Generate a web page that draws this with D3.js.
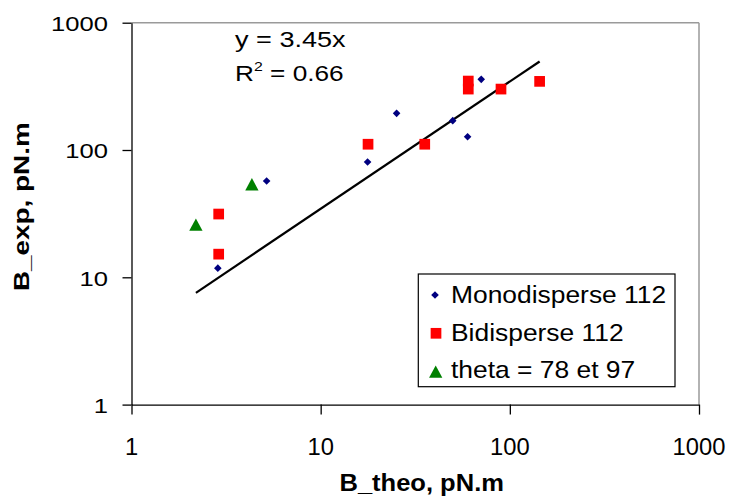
<!DOCTYPE html>
<html><head><meta charset="utf-8">
<script src="https://cdn.jsdelivr.net/npm/d3@7"></script>
<style>html,body{margin:0;padding:0;background:#fff;}svg{display:block;}</style>
</head><body>
<script>
const monoX = [2.86, 5.18, 17.7, 25.2, 49.9, 59.8, 70.6];
const monoY = [11.8, 57.1, 80.5, 194, 170, 127, 359];
const biX = [2.89, 2.89, 17.8, 35.5, 60.3, 60.3, 89.8, 143.7];
const biY = [31.4, 15.2, 111, 111, 348, 301, 301, 346];
const thetaX = [2.19, 4.33];
const thetaY = [25.9, 53.8];
const slope = 3.45;
const tickValues = [1, 10, 100, 1000];
const tickLabels = ["1", "10", "100", "1000"];
const seriesNames = ["Monodisperse 112", "Bidisperse 112", "theta = 78 et 97"];
const eqText = "y = 3.45x";
const r2Text = "0.66";
const xTitle = "B_theo, pN.m";
const yTitle = "B_exp, pN.m";

const W = 730, H = 498;
const L = 131.5, R = 699, T = 22.7, B = 404.6;
const svg = d3.select("body").append("svg").attr("width", W).attr("height", H);
const x = d3.scaleLog().domain([1, 1000]).range([L, R]);
const y = d3.scaleLog().domain([1, 1000]).range([B, T]);
const FF = "'Liberation Sans', Arial, sans-serif";

// frame
svg.append("line").attr("x1", L).attr("x2", R).attr("y1", T).attr("y2", T).attr("stroke", "#9a9a9a").attr("stroke-width", 1.5);
svg.append("line").attr("x1", R).attr("x2", R).attr("y1", T).attr("y2", B).attr("stroke", "#9a9a9a").attr("stroke-width", 1.5);

// axes
const ya = svg.append("g").attr("transform", `translate(${L},0)`)
  .call(d3.axisLeft(y).tickValues(tickValues).tickFormat("").tickSize(9).tickSizeOuter(0));
const xa = svg.append("g").attr("transform", `translate(0,${B})`)
  .call(d3.axisBottom(x).tickValues(tickValues).tickFormat("").tickSize(10).tickSizeOuter(0));
[ya, xa].forEach(g => {
  g.selectAll("path,line").attr("stroke", "#000").attr("stroke-width", 1.3);
});

// y tick labels
tickValues.forEach((v, i) => {
  svg.append("text").attr("transform", `translate(108,${y(v) + 8.3}) scale(1.22,1)`)
    .attr("text-anchor", "end").attr("font-family", FF).attr("font-size", 21).attr("fill", "#000")
    .text(tickLabels[i]);
});
// x tick labels
tickValues.forEach((v, i) => {
  let cx = x(v);
  if (v === 1000) cx = 699.5 - 0.5;
  svg.append("text").attr("transform", `translate(${cx},${454.5}) scale(0.97,1)`)
    .attr("text-anchor", "middle").attr("font-family", FF).attr("font-size", 24.5).attr("fill", "#000")
    .text(tickLabels[i]);
});

// axis titles
svg.append("text").attr("transform", `translate(421.7,491) scale(1.11,1)`)
  .attr("text-anchor", "middle").attr("font-family", FF).attr("font-weight", "bold")
  .attr("font-size", 23).text(xTitle);
svg.append("text").attr("transform", `translate(29.3,206.7) rotate(-90) scale(1.25,1)`)
  .attr("text-anchor", "middle").attr("font-family", FF).attr("font-weight", "bold")
  .attr("font-size", 22.3).text(yTitle);

// trendline
const allX = monoX.concat(biX, thetaX);
const xr = d3.extent(allX);
svg.append("path").attr("d", d3.line().x(d => x(d)).y(d => y(slope * d))(xr))
  .attr("stroke", "#000").attr("stroke-width", 2.2).attr("fill", "none");

// markers
const diamond = (g, cx, cy, s) => g.append("path")
  .attr("d", `M${cx},${cy - s}L${cx + s},${cy}L${cx},${cy + s}L${cx - s},${cy}Z`).attr("fill", "#000080");
const square = (g, cx, cy, s) => g.append("rect")
  .attr("x", cx - s / 2).attr("y", cy - s / 2).attr("width", s).attr("height", s).attr("fill", "#ff0000");
const tri = (g, cx, cy, w, h) => g.append("path")
  .attr("d", `M${cx},${cy - h / 2}L${cx + w / 2},${cy + h / 2}L${cx - w / 2},${cy + h / 2}Z`).attr("fill", "#008000");

const pts = svg.append("g");
biX.forEach((v, i) => square(pts, x(v), y(biY[i]), 10.7));
monoX.forEach((v, i) => diamond(pts, x(v), y(monoY[i]), 3.8));
thetaX.forEach((v, i) => tri(pts, x(v), y(thetaY[i]), 13.3, 12.3));

// equation
svg.append("text").attr("transform", `translate(235,47.3) scale(1.26,1)`)
  .attr("font-family", FF).attr("font-size", 21.5).text(eqText);
const r2 = svg.append("text").attr("transform", `translate(235,81) scale(1.22,1)`)
  .attr("font-family", FF).attr("font-size", 21.5);
r2.append("tspan").text("R");
r2.append("tspan").attr("font-size", 13).attr("dy", -10).text("2");
r2.append("tspan").attr("dy", 10).text(" = " + r2Text);

// legend
const lg = svg.append("g");
lg.append("rect").attr("x", 418.3).attr("y", 274).attr("width", 256.7).attr("height", 112.7)
  .attr("fill", "#fff").attr("stroke", "#000").attr("stroke-width", 1.2);
const rowsY = [303.3, 341, 378.3];
seriesNames.forEach((n, i) => {
  lg.append("text").attr("transform", `translate(451,${rowsY[i]}) scale(1.1,1)`)
    .attr("font-family", FF).attr("font-size", 24).text(n);
});
diamond(lg, 435, 295, 3.8);
square(lg, 436, 333.3, 10.7);
tri(lg, 435.7, 371.7, 13.3, 12.3);
</script>
</body></html>
